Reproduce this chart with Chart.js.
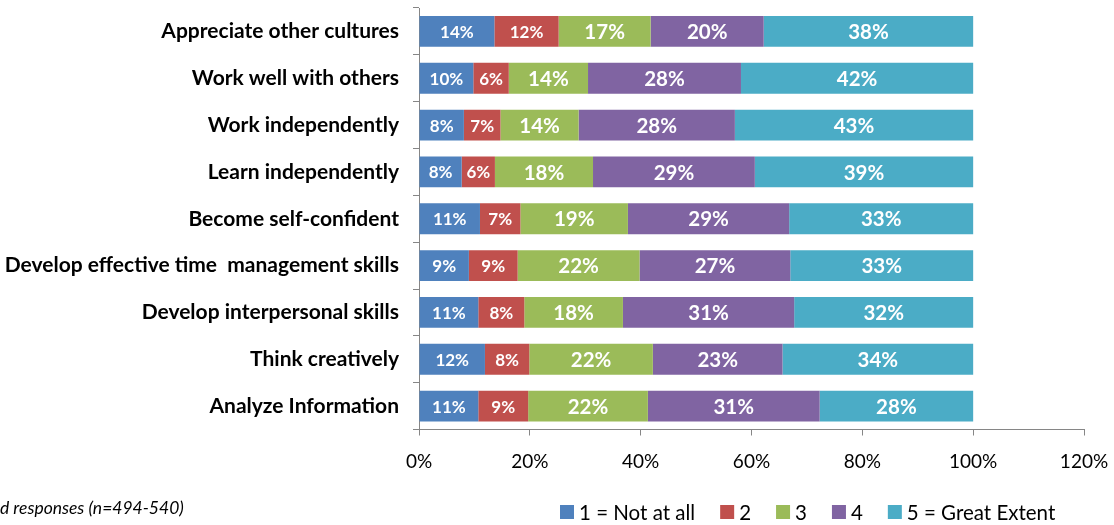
<!DOCTYPE html>
<html><head><meta charset="utf-8">
<script src="https://cdn.jsdelivr.net/npm/chart.js@4/dist/chart.umd.min.js"></script>
<style>html,body{margin:0;padding:0;background:#fff;} #wrap{width:1114px;height:525px;position:relative;}</style>
</head><body><div id="wrap"><canvas id="c" width="1114" height="525"></canvas></div>
<script>
const categories = ['Appreciate other cultures','Work well with others','Work independently','Learn independently','Become self-confident','Develop effective time  management skills','Develop interpersonal skills','Think creatively','Analyze Information'];
const seriesNames = ['1 = Not at all','2','3','4','5 = Great Extent'];
const notAtAll    = [13.6, 9.8, 8.1, 7.7, 11.0, 9.0, 10.7, 11.9, 10.7];
const two         = [11.6, 6.4, 6.6, 6.0, 7.3, 8.8, 8.3, 8.0, 9.0];
const three       = [16.6, 14.3, 14.1, 17.7, 19.4, 22.0, 17.8, 22.3, 21.6];
const four        = [20.4, 27.6, 28.2, 29.2, 29.1, 27.2, 30.9, 23.4, 31.0];
const greatExtent = [37.8, 41.9, 43.0, 39.4, 33.2, 33.0, 32.3, 34.4, 27.7];
const xTicks = [0, 20, 40, 60, 80, 100, 120];
const footnote = 'd responses (n=494-540)';

const colors = ['#4F81BD','#C0504D','#9BBB59','#8064A2','#4BACC6'];
const labelSizes = [17, 17, 20.5, 20.5, 20.5];
const seriesData = [notAtAll, two, three, four, greatExtent];

const datasets = seriesData.map((d, i) => ({
  label: seriesNames[i], data: d, backgroundColor: colors[i], borderWidth: 0,
  categoryPercentage: 0.66, barPercentage: 1.0
}));

const labelPlugin = {
  id: 'barLabels',
  afterDatasetsDraw(chart) {
    const ctx = chart.ctx;
    ctx.save();
    ctx.fillStyle = '#fff';
    ctx.textAlign = 'center';
    ctx.textBaseline = 'middle';
    chart.data.datasets.forEach((ds, i) => {
      const meta = chart.getDatasetMeta(i);
      ctx.font = 'bold ' + labelSizes[i] + 'px Lato';
      meta.data.forEach((el, j) => {
        const cx = (el.x + el.base) / 2;
        ctx.fillText(Math.round(ds.data[j]) + '%', cx, el.y + 1);
      });
    });
    ctx.restore();
  }
};

const extrasPlugin = {
  id: 'extras',
  afterDraw(chart) {
    const ctx = chart.ctx;
    ctx.save();
    ctx.fillStyle = '#000';
    ctx.textBaseline = 'middle';
    ctx.font = 'italic 17.5px Lato';
    ctx.textAlign = 'left';
    ctx.fillText(footnote, 0, 508);
    // legend
    ctx.font = '20.5px Lato';
    let x = 560;
    const y = 512;
    chart.data.datasets.forEach((ds, i) => {
      ctx.fillStyle = ds.backgroundColor;
      ctx.fillRect(x, y - 7, 14, 14);
      ctx.fillStyle = '#000';
      ctx.fillText(ds.label, x + 19, y + 1);
      x += 19 + ctx.measureText(ds.label).width + 25;
    });
    ctx.restore();
  }
};

new Chart(document.getElementById('c'), {
  type: 'bar',
  data: { labels: categories, datasets },
  plugins: [labelPlugin, extrasPlugin],
  options: {
    indexAxis: 'y', responsive: false, animation: false,
    layout: { padding: { top: 8, right: 30, bottom: 0, left: 0 } },
    plugins: { legend: { display: false }, tooltip: { enabled: false } },
    scales: {
      x: {
        stacked: true, min: 0, max: 120,
        afterBuildTicks(s) { s.ticks = xTicks.map(v => ({ value: v })); },
        ticks: { callback: v => v + '%', font: { family: 'Lato', size: 19 }, color: '#000', padding: 15, maxRotation: 0 },
        grid: { drawOnChartArea: false, drawTicks: true, tickLength: 6, color: '#868686' },
        border: { color: '#868686' },
        afterFit(s) { s.height = 95.5; s.paddingLeft = 0; s.paddingRight = 0; }
      },
      y: {
        stacked: true,
        ticks: { font: { family: 'Lato', weight: 'bold', size: 21 }, color: '#000', padding: 14 },
        grid: { drawOnChartArea: false, offset: true, tickLength: 6, color: '#868686' },
        border: { color: '#868686' },
        afterFit(s) { s.width = 419; s.paddingTop = 0; s.paddingBottom = 0; }
      }
    }
  }
});
</script></body></html>
